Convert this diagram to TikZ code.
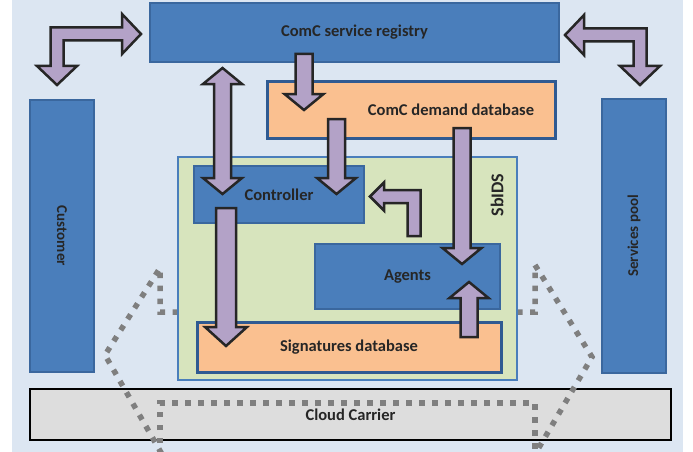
\documentclass[tikz,border=0pt]{standalone}
\usepackage{fontspec}
\setmainfont{Carlito}
\usetikzlibrary{calc}

\definecolor{bgblue}{HTML}{DCE6F2}
\definecolor{boxblue}{HTML}{4A7EBB}
\definecolor{lineblue}{HTML}{3A679E}
\definecolor{dbline}{HTML}{2F5A92}
\definecolor{dbfill}{HTML}{FAC090}
\definecolor{idsfill}{HTML}{D7E4BD}
\definecolor{cloudfill}{HTML}{DDDDDD}
\definecolor{arrowfill}{HTML}{B3A2C7}
\definecolor{dotgray}{HTML}{7F7F7F}
\definecolor{textdark}{HTML}{262626}

\newcommand\fsw{8.5}
\newcommand\fhw{19.5}
\newcommand\fhl{16}

\begin{document}
\begin{tikzpicture}[x=1pt,y=-1pt,font=\fontsize{16.5}{19}\selectfont\bfseries]
	\tikzstyle{every node}=[text=textdark, inner sep=0pt, outer sep=0pt]
	\tikzstyle{svc}=[rectangle, draw=lineblue, fill=boxblue, line width=1.2pt]
	\tikzstyle{db}=[rectangle, draw=dbline, fill=dbfill, line width=3pt]
	\tikzstyle{zone}=[rectangle, draw=boxblue, fill=idsfill, line width=1.2pt]
	\tikzstyle{carrier}=[rectangle, draw=black, fill=cloudfill, line width=1.5pt]
	\tikzstyle{cloudline}=[draw=dotgray, line width=5.5pt, dash pattern=on 5.5pt off 7.5pt]
	\tikzstyle{fat}=[fill=arrowfill, draw=black!85, line width=2.5pt, line join=miter]
	\tikzstyle{fatto}=[fat, to path={let \p1=(\tikztostart), \p2=(\tikztotarget), \n1={sign(\y2-\y1)} in
		({\x1-\fsw},\y1) -- ({\x1-\fsw},{\y2-(\n1)*\fhl}) -- ({\x1-\fhw},{\y2-(\n1)*\fhl}) -- (\x1,\y2)
		-- ({\x1+\fhw},{\y2-(\n1)*\fhl}) -- ({\x1+\fsw},{\y2-(\n1)*\fhl}) -- ({\x1+\fsw},\y1) -- cycle}]
	\tikzstyle{fatboth}=[fat, to path={let \p1=(\tikztostart), \p2=(\tikztotarget), \n1={sign(\y2-\y1)} in
		(\x1,\y1) -- ({\x1-\fhw},{\y1+(\n1)*\fhl}) -- ({\x1-\fsw},{\y1+(\n1)*\fhl}) -- ({\x1-\fsw},{\y2-(\n1)*\fhl})
		-- ({\x1-\fhw},{\y2-(\n1)*\fhl}) -- (\x1,\y2) -- ({\x1+\fhw},{\y2-(\n1)*\fhl}) -- ({\x1+\fsw},{\y2-(\n1)*\fhl})
		-- ({\x1+\fsw},{\y1+(\n1)*\fhl}) -- ({\x1+\fhw},{\y1+(\n1)*\fhl}) -- cycle}]
	\tikzstyle{fatbent}=[fat, to path={let \p1=(\tikztostart), \p2=(\tikztotarget), \n1={sign(\x2-\x1)}, \n2={sign(\y2-\y1)} in
		(\x1,\y1) -- ({\x1+(\n1)*\fhw},{\y1+(\n2)*\fhl}) -- ({\x1+(\n1)*\fsw},{\y1+(\n2)*\fhl}) -- ({\x1+(\n1)*\fsw},{\y2-(\n2)*\fsw})
		-- ({\x2-(\n1)*\fhl},{\y2-(\n2)*\fsw}) -- ({\x2-(\n1)*\fhl},{\y2-(\n2)*\fhw}) -- (\x2,\y2)
		-- ({\x2-(\n1)*\fhl},{\y2+(\n2)*\fhw}) -- ({\x2-(\n1)*\fhl},{\y2+(\n2)*\fsw}) -- ({\x1-(\n1)*\fsw},{\y2+(\n2)*\fsw})
		-- ({\x1-(\n1)*\fsw},{\y1+(\n2)*\fhl}) -- ({\x1-(\n1)*\fhw},{\y1+(\n2)*\fhl}) -- cycle}]
	\tikzstyle{fatturn}=[fat, to path={let \p1=(\tikztostart), \p2=(\tikztotarget), \n1={sign(\x2-\x1)}, \n2={sign(\y2-\y1)} in
		({\x1+(\n1)*\fsw},\y1) -- ({\x1+(\n1)*\fsw},{\y2-(\n2)*\fsw}) -- ({\x2-(\n1)*\fhl},{\y2-(\n2)*\fsw})
		-- ({\x2-(\n1)*\fhl},{\y2-(\n2)*\fhw}) -- (\x2,\y2) -- ({\x2-(\n1)*\fhl},{\y2+(\n2)*\fhw})
		-- ({\x2-(\n1)*\fhl},{\y2+(\n2)*\fsw}) -- ({\x1-(\n1)*\fsw},{\y2+(\n2)*\fsw}) -- ({\x1-(\n1)*\fsw},\y1) -- cycle}]
	\useasboundingbox (0,0) rectangle (693,452);
	\fill[bgblue] (12,0) rectangle (683,452);
	\node[carrier, minimum width=641, minimum height=51] (carrier) at (350.5,414.5) {Cloud Carrier};
	\draw[cloudline] (178,312) -- (160,312) -- (160,268) -- (105,355) -- (163,456);
	\draw[cloudline] (160,456) -- (160,403) -- (535,403) -- (535,456);
	\draw[cloudline] (517,312) -- (535,312) -- (535,265) -- (592,357) -- (534,456);
	\node[svc, minimum width=64, minimum height=272] (customer) at (62,236)
		[label={[rotate=-90, font=\fontsize{15}{18}\selectfont\bfseries]center:Customer}] {};
	\node[svc, minimum width=64, minimum height=274] (pool) at (634,236)
		[label={[rotate=90, font=\fontsize{15}{18}\selectfont\bfseries]center:Services pool}] {};
	\node[svc, minimum width=409, minimum height=59] (registry) at (354.5,32.5) {ComC service registry};
	\node[db, minimum width=288, minimum height=57] (demand) at (411,109.5)
		[label={[xshift=40pt]center:ComC demand database}] {};
	\node[zone, minimum width=339, minimum height=223] (sbids) at (347.5,268.5)
		[label={[xshift=149.5pt, yshift=73.5pt, rotate=90, font=\fontsize{18}{21}\selectfont\bfseries]center:SbIDS}] {};
	\node[svc, minimum width=170, minimum height=57] (controller) at (279,194.5) {Controller};
	\node[svc, minimum width=185, minimum height=65] (agents) at (407.5,276.5) {Agents};
	\node[db, minimum width=304, minimum height=50] (signatures) at (349,347) {Signatures database};
	\draw[fatto] ([shift={(-50.5,-8)}]registry.south) to ([shift={(-107,29)}]demand.north);
	\draw[fatto] ([shift={(-74.5,-19)}]demand.south) to ([shift={(57.5,28)}]controller.north);
	\draw[fatto] ([shift={(51,-10)}]demand.south) to ([shift={(54.5,20)}]agents.north);
	\draw[fatboth] ([shift={(-132,6)}]registry.south) to ([shift={(-56.5,28)}]controller.north);
	\draw[fatto] ([shift={(120,15)}]signatures.north) to ([shift={(61.5,-27)}]agents.south);
	{\def\fsw{10}\def\fhw{21}\def\fhl{19}
	\draw[fatto] ([shift={(-53,-15)}]controller.south) to ([shift={(-123,24)}]signatures.north);}
	{\def\fsw{6.5}\def\fhw{14}\def\fhl{14}
	\draw[fatturn] ([shift={(6.5,-8)}]agents.north) to ([shift={(6,2)}]controller.east);}
	{\def\fsw{6.5}\def\fhw{20}\def\fhl{19}
	\draw[fatbent] ([shift={(-5,-15)}]customer.north) to ([shift={(-9,1.5)}]registry.west);
	\draw[fatbent] ([shift={(6,-14)}]pool.north) to ([shift={(6,2.5)}]registry.east);}
\end{tikzpicture}
\end{document}
